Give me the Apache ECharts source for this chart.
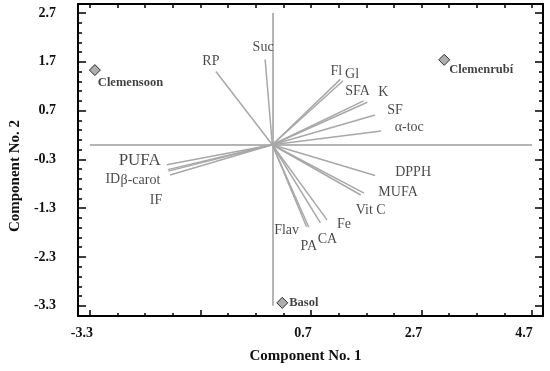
<!DOCTYPE html>
<html>
<head>
<meta charset="utf-8">
<script src="https://cdn.jsdelivr.net/npm/echarts@6/dist/echarts.min.js"></script>
<style>html,body{margin:0;padding:0;background:#fff}#c{width:550px;height:371px}</style>
</head>
<body>
<div id="c"></div>
<script>
// ---- data ----
const vectorNames = ['RP','Suc','Fl','Gl','SFA','K','SF','α-toc','PUFA','ID','β-carot','IF','DPPH','MUFA','Vit C','Fe','CA','PA','Flav'];
const vectorX = [-1.02,-0.13,1.23,1.28,1.65,1.72,1.86,1.97,-1.91,-1.89,-1.88,-1.85,1.86,1.66,1.60,0.99,0.87,0.66,0.62];
const vectorY = [1.50,1.75,1.34,1.31,0.90,0.87,0.61,0.28,-0.41,-0.51,-0.54,-0.62,-0.63,-0.99,-1.03,-1.54,-1.60,-1.69,-1.68];

const sampleNames = ['Clemensoon','Clemenrubí','Basol'];
const sampleX = [-3.21, 3.11, 0.18];
const sampleY = [1.53, 1.74, -3.24];

const crossXRange = [-3.3, 4.7];
const crossYRange = [-3.3, 2.7];

const xTickLabels = [-3.3, 0.7, 2.7, 4.7];
const xMajorTicks = [-3.3, -1.3, 0.7, 2.7, 4.7];
const xMinorTicks = [-3.3,-2.8,-2.3,-1.8,-1.3,-0.8,-0.3,0.2,0.7,1.2,1.7,2.2,2.7,3.2,3.7,4.2,4.7];
const yTickLabels = [-3.3, -2.3, -1.3, -0.3, 0.7, 1.7, 2.7];
const yMajorTicks = [-3.3, -2.3, -1.3, -0.3, 0.7, 1.7, 2.7];
const yMinorTicks = [-3.3,-3.1,-2.9,-2.7,-2.5,-2.3,-2.1,-1.9,-1.7,-1.5,-1.3,-1.1,-0.9,-0.7,-0.5,-0.3,-0.1,0.1,0.3,0.5,0.7,0.9,1.1,1.3,1.5,1.7,1.9,2.1,2.3,2.5,2.7];

// ---- layout / style ----
const X_MIN = -3.514, X_MAX = 4.897, Y_MIN = -3.509, Y_MAX = 2.884;
const SERIF = "'Liberation Serif','Times New Roman',serif";
const labelOffset = {
  'RP':[-5,-10], 'Suc':[-2,-12], 'Fl':[-4,-8], 'Gl':[9,-6], 'SFA':[-6,-9], 'K':[16,-10],
  'SF':[20,-5], 'α-toc':[28,-4], 'PUFA':[-27,-4], 'ID':[-55,10], 'β-carot':[-28,9], 'IF':[-14,25],
  'DPPH':[38,-3], 'MUFA':[34,-1], 'Vit C':[10,15], 'Fe':[17,4], 'CA':[7,16], 'PA':[0,19], 'Flav':[-20,4]
};
const labelSize = {'PUFA':17};
const sampleOffset = {'Clemensoon':[3,13], 'Clemenrubí':[5,10], 'Basol':[7,0]};

const axisLineStyle = {color:'#000', width:2};
function valAxis(extra){
  const base = {type:'value', splitLine:{show:false}, axisLabel:{show:false}, axisTick:{show:false}, axisLine:{show:false, onZero:false}};
  return Object.assign(base, extra);
}

const chart = echarts.init(document.getElementById('c'));
chart.setOption({
  animation:false,
  grid:{left:72, right:7, top:4, bottom:55, containLabel:false},
  xAxis:[
    valAxis({position:'bottom', min:X_MIN, max:X_MAX,
      axisLine:{show:true, onZero:false, lineStyle:axisLineStyle},
      axisTick:{show:true, inside:true, length:6, customValues:xMajorTicks, lineStyle:{color:'#000', width:1.5}},
      axisLabel:{show:true, customValues:xTickLabels, margin:10, padding:[0,16,0,0], formatter:v=>Number(v).toFixed(1),
        fontFamily:SERIF, fontWeight:'bold', fontSize:14, color:'#111'},
      name:'Component No. 1', nameLocation:'middle', nameGap:33,
      nameTextStyle:{fontFamily:SERIF, fontWeight:'bold', fontSize:15, color:'#111', padding:[0,10,0,0]}}),
    valAxis({position:'bottom', min:X_MIN, max:X_MAX,
      axisLine:{show:false, onZero:false},
      axisTick:{show:true, inside:true, length:3, customValues:xMinorTicks, lineStyle:{color:'#000', width:1.5}}}),
    valAxis({position:'top', min:X_MIN, max:X_MAX,
      axisLine:{show:true, onZero:false, lineStyle:axisLineStyle},
      axisTick:{show:true, inside:true, length:4, customValues:xMinorTicks, lineStyle:{color:'#000', width:1.5}}})
  ],
  yAxis:[
    valAxis({position:'left', min:Y_MIN, max:Y_MAX,
      axisLine:{show:true, onZero:false, lineStyle:axisLineStyle},
      axisTick:{show:true, inside:true, length:8, customValues:yMajorTicks, lineStyle:{color:'#000', width:1.5}},
      axisLabel:{show:true, customValues:yTickLabels, margin:22, formatter:v=>Number(v).toFixed(1),
        fontFamily:SERIF, fontWeight:'bold', fontSize:14, color:'#111'},
      name:'Component No. 2', nameLocation:'middle', nameGap:52,
      nameTextStyle:{fontFamily:SERIF, fontWeight:'bold', fontSize:15, color:'#111', padding:[0,32,0,0]}}),
    valAxis({position:'left', min:Y_MIN, max:Y_MAX,
      axisLine:{show:false, onZero:false},
      axisTick:{show:true, inside:true, length:4, customValues:yMinorTicks, lineStyle:{color:'#000', width:1.5}}}),
    valAxis({position:'right', min:Y_MIN, max:Y_MAX,
      axisLine:{show:true, onZero:false, lineStyle:axisLineStyle},
      axisTick:{show:true, inside:true, length:8, customValues:yMajorTicks, lineStyle:{color:'#000', width:1.5}}}),
    valAxis({position:'right', min:Y_MIN, max:Y_MAX,
      axisLine:{show:false, onZero:false},
      axisTick:{show:true, inside:true, length:4, customValues:yMinorTicks, lineStyle:{color:'#000', width:1.5}}})
  ],
  series:[
    {type:'lines', coordinateSystem:'cartesian2d', xAxisIndex:0, yAxisIndex:0, silent:true,
      lineStyle:{color:'#9c9c9c', width:1.5, opacity:1},
      data:[{coords:[[crossXRange[0],0],[crossXRange[1],0]]},{coords:[[0,crossYRange[0]],[0,crossYRange[1]]]}]},
    {type:'lines', coordinateSystem:'cartesian2d', xAxisIndex:0, yAxisIndex:0, silent:true,
      lineStyle:{color:'#a8a8a8', width:1.5, opacity:1},
      data:vectorNames.map((n,i)=>({coords:[[0,0],[vectorX[i],vectorY[i]]]}))},
    {type:'scatter', xAxisIndex:0, yAxisIndex:0, silent:true, symbolSize:2, itemStyle:{color:'rgba(0,0,0,0)'},
      label:{show:true, position:'inside', formatter:p=>p.name, fontFamily:SERIF, fontSize:14, color:'#1a1a1a'},
      data:vectorNames.map((n,i)=>({name:n, value:[vectorX[i],vectorY[i]],
        label:{offset:labelOffset[n], fontSize:labelSize[n]||14}}))},
    {type:'scatter', xAxisIndex:0, yAxisIndex:0, symbol:'diamond', symbolSize:11,
      itemStyle:{color:'#9a9a9a', borderColor:'#000', borderWidth:1},
      label:{show:true, position:'inside', align:'left', formatter:p=>p.name, fontFamily:SERIF, fontWeight:'bold', fontSize:12.5, color:'#111'},
      data:sampleNames.map((n,i)=>({name:n, value:[sampleX[i],sampleY[i]], label:{offset:sampleOffset[n]}}))}
  ]
});
</script>
</body>
</html>
